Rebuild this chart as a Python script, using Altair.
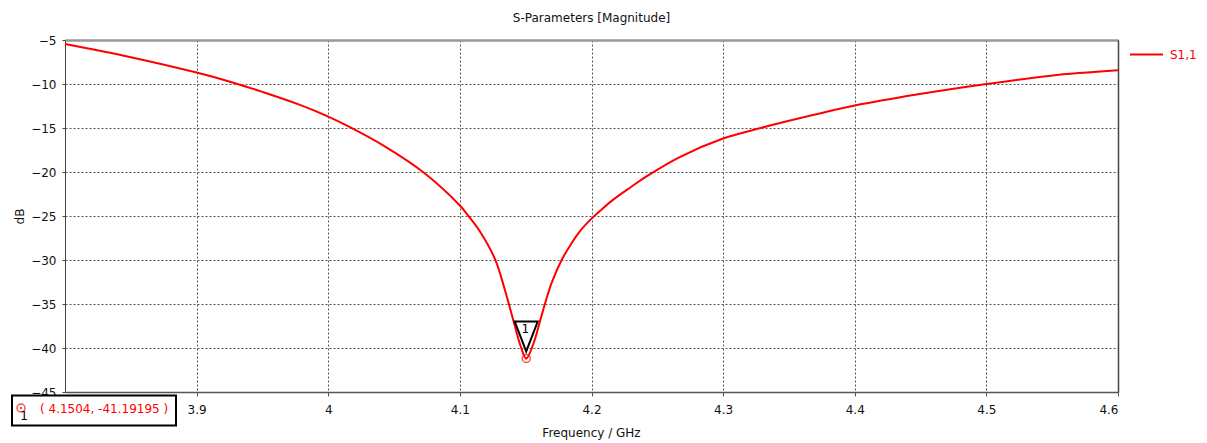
import altair as alt
import pandas as pd

# S1,1 magnitude curve
freq_ghz = [3.80, 3.85, 3.90, 3.928, 3.95, 3.978, 4.00, 4.0165, 4.042, 4.072,
            4.10, 4.105, 4.115, 4.1267, 4.1342, 4.1405, 4.1462, 4.1504,
            4.1557, 4.1608, 4.1646, 4.1697, 4.1773, 4.1836, 4.1911, 4.20, 4.2066, 4.216,
            4.23, 4.2418, 4.267, 4.30, 4.3285, 4.369, 4.40, 4.447, 4.50, 4.549, 4.60]
s11_db = [-5.45, -6.95, -8.7, -9.85, -10.9, -12.35, -13.7, -14.9, -17.0, -20.0,
          -23.8, -24.7, -26.7, -29.9, -33.4, -36.8, -39.8, -41.19,
          -39.6, -37.0, -35.0, -32.6, -30.0, -28.4, -26.75, -25.3, -24.4, -23.2,
          -21.7, -20.5, -18.3, -16.2, -15.0, -13.5, -12.45, -11.2, -10.0, -9.05, -8.45]
series_name = ["S1,1"]

# Marker 1
marker_f = [4.1504]
marker_db = [-41.19195]
marker_id = ["1"]

x_ticks = [3.9, 4.0, 4.1, 4.2, 4.3, 4.4, 4.5, 4.6]
y_ticks = [-45, -40, -35, -30, -25, -20, -15, -10, -5]

curve = pd.DataFrame({"f": freq_ghz, "db": s11_db, "series": series_name * len(freq_ghz)})
marker = pd.DataFrame({
    "f": marker_f, "db": marker_db, "id": marker_id,
    "label": [f"( {f}, {d} )" for f, d in zip(marker_f, marker_db)],
})

FONT = "DejaVu Sans"
xs = alt.Scale(domain=[3.8, 4.6], nice=False, zero=False)
ys = alt.Scale(domain=[-45, -5], nice=False, zero=False)

x_axis = alt.Axis(values=x_ticks, format="~g", title="Frequency / GHz",
                  grid=True, gridColor="#555", gridDash=[2, 2], gridWidth=1,
                  domainColor="#555", domainWidth=1.5, tickColor="#555", tickSize=4,
                  labelPadding=8, labelFont=FONT, labelFontSize=12, labelColor="#111",
                  titleFont=FONT, titleFontSize=12, titleFontWeight="normal", titleColor="#111",
                  titleX=526, titleY=44, titleBaseline="alphabetic", titleAlign="center")
y_axis = alt.Axis(values=y_ticks, title="dB",
                  grid=True, gridColor="#555", gridDash=[2, 2], gridWidth=1,
                  domainColor="#444", domainWidth=1, tickColor="#444", tickSize=3,
                  labelPadding=6, labelFont=FONT, labelFontSize=12, labelColor="#111",
                  titleFont=FONT, titleFontSize=12, titleFontWeight="normal", titleColor="#111",
                  titleX=-46, titleY=176, titleAngle=-90, titleBaseline="middle", titleAlign="center")

line = alt.Chart(curve).mark_line(strokeWidth=2, interpolate="catmull-rom").encode(
    x=alt.X("f:Q", scale=xs, axis=x_axis),
    y=alt.Y("db:Q", scale=ys, axis=y_axis),
    color=alt.Color("series:N", scale=alt.Scale(domain=series_name, range=["#ff0000"]),
                    legend=alt.Legend(title=None, orient="none", legendX=1064, legendY=-3,
                                      symbolType="stroke", symbolSize=1089, symbolStrokeWidth=2,
                                      labelColor="#ff0000", labelFont=FONT, labelFontSize=12,
                                      labelOffset=6, padding=0)),
)

frame = alt.Chart(marker).mark_point(opacity=0).encode(
    x=alt.X("f:Q", scale=xs, axis=alt.Axis(orient="top", labels=False, ticks=False, grid=False,
                                           title=None, domainColor="#999", domainWidth=2.5)),
    y=alt.Y("db:Q", scale=ys, axis=alt.Axis(orient="right", labels=False, ticks=False, grid=False,
                                            title=None, domainColor="#444", domainWidth=1.5)),
)

mx = alt.X("f:Q", scale=xs, axis=None)
my = alt.Y("db:Q", scale=ys, axis=None)

ring = alt.Chart(marker).mark_point(shape="circle", size=64, filled=False, color="#ff0000",
                                    strokeWidth=1.5).encode(x=mx, y=my)
dot = alt.Chart(marker).mark_point(shape="circle", size=4, filled=True, color="#ff0000",
                                   opacity=1).encode(x=mx, y=my)
tri = alt.Chart(marker).mark_point(shape="M-1,-1.3L1,-1.3L0,1.3Z", size=529, filled=False,
                                   fill="white", fillOpacity=1, stroke="black", strokeWidth=2,
                                   yOffset=-22).encode(x=mx, y=my)
tri_text = alt.Chart(marker).mark_text(font=FONT, fontSize=12, color="black", dy=-29, dx=-1,
                                       baseline="middle").encode(x=mx, y=my, text="id:N")

box = alt.Chart(marker).mark_rect(fill="white", stroke="black", strokeWidth=2).encode(
    x=alt.value(-53), x2=alt.value(111), y=alt.value(355.5), y2=alt.value(385.5))
box_ring = alt.Chart(marker).mark_point(shape="circle", size=64, filled=False, color="#ff0000",
                                        strokeWidth=1.5).encode(x=alt.value(-44), y=alt.value(368))
box_dot = alt.Chart(marker).mark_point(shape="circle", size=4, filled=True, color="#ff0000",
                                       opacity=1).encode(x=alt.value(-44), y=alt.value(368))
box_id = alt.Chart(marker).mark_text(font=FONT, fontSize=12, color="black", baseline="middle").encode(
    x=alt.value(-41), y=alt.value(376), text="id:N")
box_text = alt.Chart(marker).mark_text(font=FONT, fontSize=12, color="#ff0000", align="left",
                                       baseline="middle").encode(
    x=alt.value(-25), y=alt.value(368.5), text="label:N")

chart = alt.layer(line, frame, ring, dot, tri, tri_text, box, box_ring, box_dot, box_id, box_text).resolve_axis(
    x="independent", y="independent"
).properties(
    width=1053, height=352,
    title=alt.TitleParams("S-Parameters [Magnitude]", font=FONT, fontSize=12, fontWeight="normal",
                          color="#111", anchor="middle", offset=9),
    autosize=alt.AutoSizeParams(type="none"),
    padding={"left": 57, "top": 32, "right": 81, "bottom": 52},
).configure_view(stroke=None)

chart.save("out.html", embed_options={"renderer": "svg", "actions": False})
